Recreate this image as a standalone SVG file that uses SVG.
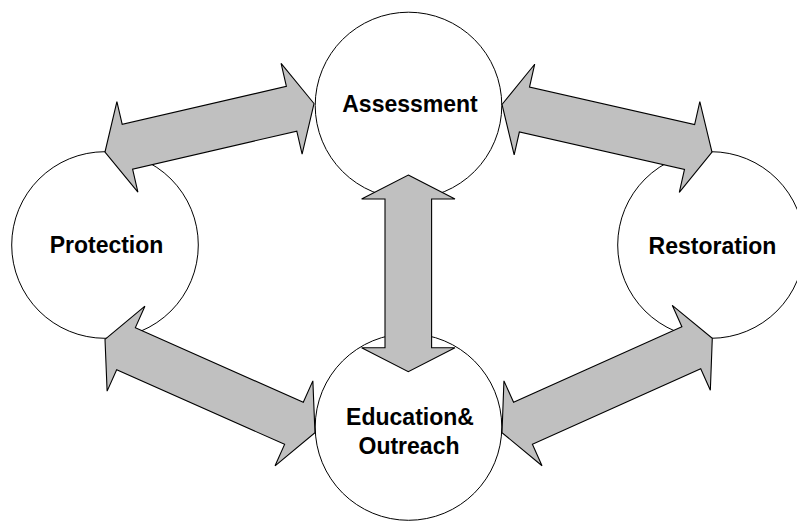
<svg xmlns="http://www.w3.org/2000/svg" width="797" height="522" viewBox="0 0 797 522">
<style>
.node circle{fill:#ffffff;stroke:#000000;stroke-width:1}
.node text{font-family:"Liberation Sans",Arial,sans-serif;font-weight:bold;font-size:23px;fill:#000000;text-anchor:middle}
.conn polygon{fill:#c0c0c0;stroke:#000000;stroke-width:1.1;stroke-linejoin:miter}
</style>
<rect width="797" height="522" fill="#ffffff"/>
<g id="node-assessment" class="node">
<circle cx="408.5" cy="105.5" r="93.3"/>
<text x="410" y="112">Assessment</text>
</g>
<g id="node-protection" class="node">
<circle cx="105" cy="245" r="93.3"/>
<text x="106.5" y="252.5">Protection</text>
</g>
<g id="node-restoration" class="node">
<circle cx="711" cy="245" r="93.3"/>
<text x="712.5" y="253.5">Restoration</text>
</g>
<g id="node-education" class="node">
<circle cx="408.5" cy="427" r="93.3"/>
<text x="410" y="425">Education&amp;</text>
<text x="409" y="453.5">Outreach</text>
</g>
<g id="connectors" class="conn">
<polygon transform="translate(105,152) rotate(-13.06)" points="0,0 23,-46.5 23,-23 191.55,-23 191.55,-46.5 214.55,0 191.55,46.5 191.55,23 23,23 23,46.5"/>
<polygon transform="translate(502,104.5) rotate(12.75)" points="0,0 23,-46.5 23,-23 192.3,-23 192.3,-46.5 215.3,0 192.3,46.5 192.3,23 23,23 23,46.5"/>
<polygon transform="translate(105,339.3) rotate(23.98)" points="0,0 23,-46.5 23,-23 206.8,-23 206.8,-46.5 229.8,0 206.8,46.5 206.8,23 23,23 23,46.5"/>
<polygon transform="translate(502,432.7) rotate(-24.17)" points="0,0 23,-46.5 23,-23 207.5,-23 207.5,-46.5 230.5,0 207.5,46.5 207.5,23 23,23 23,46.5"/>
<polygon transform="translate(408.3,175) rotate(90)" points="0,0 24,-46.7 24,-23.3 172.7,-23.3 172.7,-46.7 196.7,0 172.7,46.7 172.7,23.3 24,23.3 24,46.7"/>
</g>
</svg>
